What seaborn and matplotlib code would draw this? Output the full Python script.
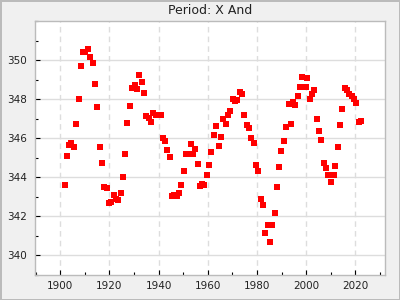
import matplotlib
matplotlib.use("Agg")
import matplotlib.pyplot as plt
import seaborn as sns
import pandas as pd
from matplotlib.ticker import MultipleLocator

title = "Period: X And"

years = [1902.0, 1902.8, 1903.7, 1904.5, 1905.7, 1906.5, 1907.7, 1908.5, 1909.4, 1910.2,
         1911.4, 1912.2, 1913.4, 1914.2, 1915.1, 1916.3, 1917.1, 1917.9, 1919.1, 1919.9,
         1920.7, 1922.0, 1922.8, 1923.6, 1924.8, 1925.6, 1926.4, 1927.3, 1928.5, 1929.3,
         1930.5, 1931.3, 1932.1, 1933.4, 1934.2, 1935.0, 1936.2, 1937.0, 1937.8, 1939.1,
         1940.3, 1941.1, 1941.9, 1942.7, 1943.5, 1944.7, 1945.6, 1946.4, 1947.6, 1948.4,
         1949.2, 1950.4, 1951.3, 1952.1, 1953.3, 1954.1, 1954.9, 1956.1, 1957.0, 1957.8,
         1958.6, 1959.8, 1960.6, 1961.4, 1962.6, 1963.5, 1964.7, 1965.5, 1966.3, 1967.5,
         1968.3, 1969.2, 1970.4, 1971.2, 1972.0, 1973.2, 1974.0, 1974.8, 1976.1, 1976.9,
         1977.7, 1978.9, 1979.7, 1980.5, 1981.8, 1982.6, 1983.4, 1984.6, 1985.4, 1986.2,
         1987.5, 1988.3, 1989.1, 1989.9, 1991.1, 1991.9, 1993.2, 1994.0, 1994.8, 1995.6,
         1996.8, 1997.6, 1998.4, 1999.3, 2000.1, 2000.5, 2001.7, 2002.5, 2003.3, 2004.5,
         2005.3, 2006.2, 2007.4, 2008.2, 2009.0, 2010.2, 2010.6, 2011.5, 2011.9, 2013.1,
         2013.9, 2014.7, 2015.9, 2016.7, 2017.5, 2018.8, 2019.6, 2020.4, 2021.6, 2022.4]

periods = [343.59, 345.08, 345.64, 345.74, 345.54, 346.72, 348.00, 349.69, 350.41, 350.41,
           350.56, 350.15, 349.85, 348.77, 347.59, 345.54, 344.72, 343.49, 343.44, 342.67,
           342.72, 343.08, 342.87, 342.82, 343.18, 344.00, 345.18, 346.77, 347.64, 348.56,
           348.72, 348.51, 349.23, 348.87, 348.31, 347.13, 347.03, 346.82, 347.28, 347.18,
           347.18, 347.18, 346.00, 345.85, 345.38, 345.03, 343.03, 343.08, 343.03, 343.18,
           343.59, 344.31, 345.18, 345.18, 345.69, 345.18, 345.44, 344.67, 343.54, 343.64,
           343.59, 344.10, 344.62, 345.28, 346.15, 346.62, 345.59, 346.05, 346.97, 346.72,
           347.18, 347.38, 348.00, 347.90, 347.95, 348.36, 348.26, 347.18, 346.67, 346.51,
           346.00, 345.74, 344.62, 344.31, 342.87, 342.56, 341.13, 341.54, 340.67, 341.54,
           342.15, 343.49, 344.51, 345.33, 345.85, 346.56, 347.74, 346.72, 347.85, 347.69,
           348.15, 348.62, 349.13, 348.62, 348.62, 349.08, 348.00, 348.26, 348.46, 346.97,
           346.36, 345.90, 344.72, 344.46, 344.10, 343.74, 344.10, 344.10, 344.56, 345.54,
           346.67, 347.49, 348.56, 348.46, 348.26, 348.15, 348.00, 347.79, 346.82, 346.87]

x_ticks = [1900, 1920, 1940, 1960, 1980, 2000, 2020]
y_ticks = [340, 342, 344, 346, 348, 350]

df = pd.DataFrame({"year": years, "period": periods})

sns.set_style("white")
plt.rcParams["font.family"] = ["DejaVu Sans"]

fig = plt.figure(figsize=(4, 3), dpi=100, facecolor="#f0f0f0")
fig.patch.set_edgecolor("#bbbbbb")
fig.patch.set_linewidth(2)
ax = fig.add_axes([0.0875, 0.0833, 0.875, 0.8467])
ax.set_facecolor("white")

sns.scatterplot(data=df, x="year", y="period", ax=ax, marker="s", s=16,
                color="#ff0000", linewidth=0, zorder=3)

ax.set_xlim(1889.7, 2032.1)
ax.set_ylim(339.0, 352.0)
ax.set_xticks(x_ticks)
ax.set_yticks(y_ticks)
ax.xaxis.set_minor_locator(MultipleLocator(10))
ax.yaxis.set_minor_locator(MultipleLocator(1))
ax.set_xlabel("")
ax.set_ylabel("")
ax.set_title(title, fontsize=9, color="#222222", pad=5)

ax.grid(True, axis="y", which="major", color="#dddddd", linewidth=1, linestyle="-", zorder=0)
ax.grid(True, axis="x", which="major", color="#dddddd", linewidth=1, linestyle=(0, (4, 3)), zorder=0)
ax.set_axisbelow(True)

ax.tick_params(axis="both", which="major", direction="in", length=3.5, width=0.8,
               color="black", labelsize=7.5, labelcolor="#222222")
ax.tick_params(axis="both", which="minor", direction="in", length=2, width=0.8, color="black")
ax.tick_params(axis="y", which="major", pad=6)
ax.tick_params(axis="x", which="major", pad=4)
ax.tick_params(axis="both", which="both", bottom=True, left=True, top=False, right=False)

for sp in ax.spines.values():
    sp.set_color("#bbbbbb")
    sp.set_linewidth(1)

fig.savefig("out.png", dpi=100, facecolor=fig.get_facecolor(), edgecolor=fig.get_edgecolor())
